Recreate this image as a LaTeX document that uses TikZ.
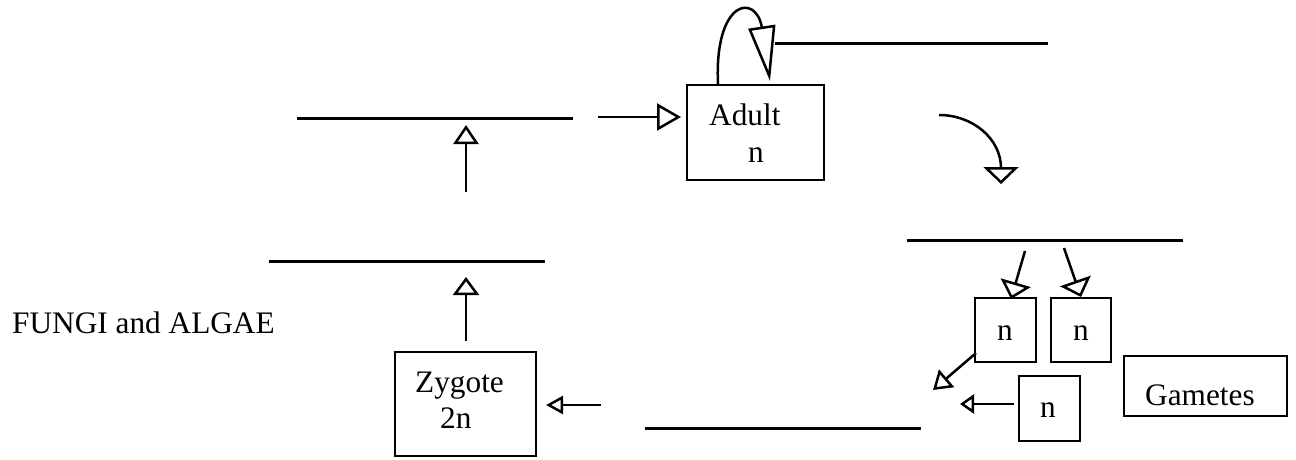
\documentclass[tikz,border=0pt]{standalone}
\usepackage{fontspec}
\setmainfont{Liberation Serif}
\usetikzlibrary{arrows.meta,calc}
\begin{document}
\begin{tikzpicture}[x=1pt,y=-1pt,
  blank/.style={line width=3pt},
  box/.style={draw,rectangle,line width=2pt,inner sep=0pt},
  lbl/.style={inner sep=0pt,anchor=base west,font=\fontsize{31.3}{37}\selectfont},
  arr/.style={line width=2.5pt},
  headed/.style 2 args={-{Triangle[open,length=#1,width=#2]}}]
\useasboundingbox (0,0) rectangle (1296,459);

% boxes
\node[box,minimum width=137pt,minimum height=95pt] (adult) at (755.5,132.5) {};
\node[box,minimum width=141pt,minimum height=104pt] (zyg) at (465.5,404) {};
\node[box,minimum width=61pt,minimum height=64pt] (n1) at (1005.5,330) {};
\node[box,minimum width=60pt,minimum height=64pt] (n2) at (1081,330) {};
\node[box,minimum width=61pt,minimum height=65pt] (n3) at (1049.5,408.5) {};
\node[box,minimum width=163pt,minimum height=60pt] (gam) at (1205.5,386) {};

% texts
\node[lbl] (tAdult) at (709,125) {Adult};
\node[lbl] (tAdultN) at (748,162) {n};
\node[lbl] (tZyg) at (415,392) {Zygote};
\node[lbl] (tZygN) at (440,428) {2n};
\node[lbl] (tN1) at (997,340) {n};
\node[lbl] (tN2) at (1073,340) {n};
\node[lbl] (tN3) at (1040,417) {n};
\node[lbl] (tGam) at (1145,405) {Gametes};
\node[lbl] (tTitle) at (12,333) {FUNGI and ALGAE};

% blank lines
\draw[blank] (297,118) -- (573,118);
\draw[blank] (269,261) -- (545,261);
\draw[blank] (775,43) -- (1048,43);
\draw[blank] (907,240) -- (1183,240);
\draw[blank] (645,428) -- (921,428);

% free ends
\coordinate (a1s) at (598,117);
\coordinate (a2s) at (466,192);
\coordinate (a2e) at (466,125);
\coordinate (a3e) at (466,277);
\coordinate (a4s) at (601,405);
\coordinate (a5e) at (933,390);
\coordinate (a6e) at (960,404);
\coordinate (a7s) at (1025,251);
\coordinate (a8s) at (1064,248);
\coordinate (a9s) at (939,115);
\coordinate (a9e) at (1001,184);

% arrows
\draw[arr,headed={24pt}{27pt}] (a1s) -- ($(adult.west)+(-5,-15.5)$);
\draw[arr,headed={19pt}{25pt}] (a2s) -- (a2e);
\draw[arr,headed={18pt}{26pt}] ($(zyg.north)+(0.5,-10)$) -- (a3e);
\draw[arr,headed={17pt}{18pt}] (a4s) -- ($(zyg.east)+(9,1)$);
\draw[arr,headed={18pt}{23pt}] ($(n1.west)+(2,23)$) -- (a5e);
\draw[arr,headed={14pt}{19pt}] ($(n3.west)+(-4,-4.5)$) -- (a6e);
\draw[arr,headed={17pt}{31pt}] (a7s) -- ($(n1.north)+(5.5,2)$);
\draw[arr,headed={17pt}{32pt}] (a8s) -- (n2.north);
\draw[arr,headed={17pt}{35pt}] (a9s) .. controls (973,115) and (1001,139) .. (1001,168) -- (a9e);
\draw[arr,headed={55pt}{27pt}] ($(adult.north)+(-37.5,0)$) .. controls (714,0) and (756,-8) .. (762,28) -- ($(adult.north)+(14.5,-3)$);
\end{tikzpicture}
\end{document}
